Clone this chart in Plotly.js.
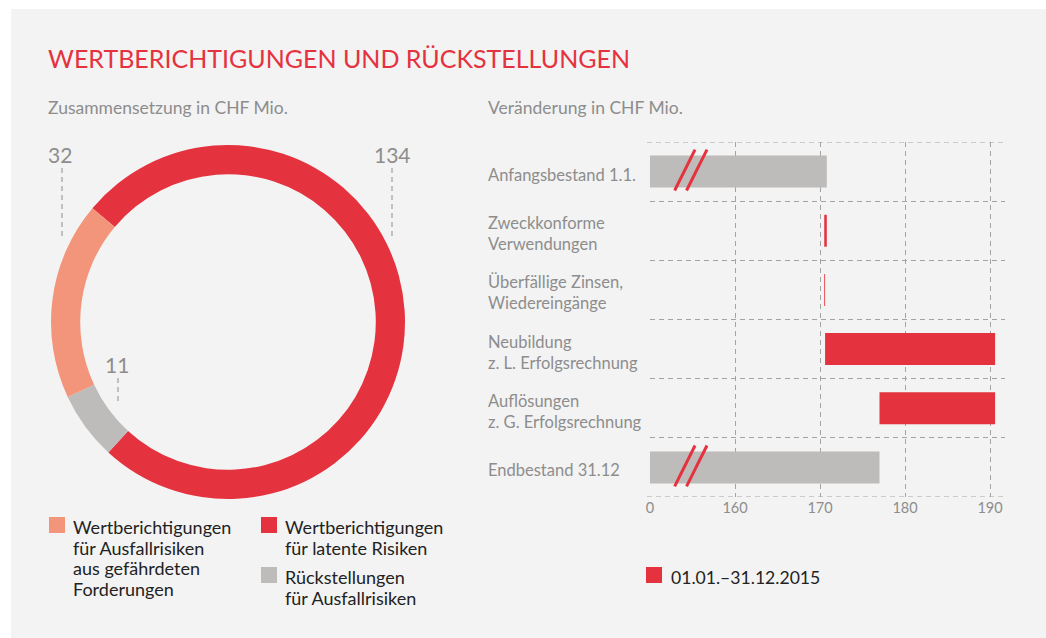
<!DOCTYPE html>
<html>
<head>
<meta charset="utf-8">
<script src="https://cdn.plot.ly/plotly-3.0.1.min.js"></script>
<style>
  html, body { margin: 0; padding: 0; background: #ffffff; }
  #chart { width: 1046px; height: 638px; }
</style>
</head>
<body>
<div id="chart"></div>
<script>
// ---------- DATA ----------
const pieLabels = [
  "Wertberichtigungen für latente Risiken",
  "Rückstellungen für Ausfallrisiken",
  "Wertberichtigungen für Ausfallrisiken aus gefährdeten Forderungen"
];
const pieValues = [134, 11, 32];
const pieColors = ["#e5323f", "#bebcba", "#f3957a"];

const legendLinesSalmon = ["Wertberichtigungen", "für Ausfallrisiken", "aus gefährdeten", "Forderungen"];
const legendLinesRed = ["Wertberichtigungen", "für latente Risiken"];
const legendLinesGrey = ["Rückstellungen", "für Ausfallrisiken"];

const categories = [
  "Anfangsbestand 1.1.",
  "Zweckkonforme<br>Verwendungen",
  "Überfällige Zinsen,<br>Wiedereingänge",
  "Neubildung<br>z. L. Erfolgsrechnung",
  "Auflösungen<br>z. G. Erfolgsrechnung",
  "Endbestand 31.12"
];
const changeValues = [170.8, -0.3, 0.1, 20.0, -13.6, 0];
const changeMeasures = ["absolute", "relative", "relative", "relative", "relative", "total"];
const periodLabel = "01.01.–31.12.2015";

const tickValues = [150, 160, 170, 180, 190];
const tickLabels = ["0", "160", "170", "180", "190"];

// ---------- LAYOUT HELPERS ----------
const W = 1046, H = 638;
const px = x => x / W;
const py = y => 1 - y / H;

const RED = "#e5323f", GREY_TXT = "#8d8d8d", GRID = "#a3a3a3", FONT = "Lato, 'Open Sans', sans-serif";

const pieTrace = {
  type: "pie",
  labels: pieLabels,
  values: pieValues,
  marker: { colors: pieColors, line: { width: 0 } },
  hole: 0.835,
  sort: false,
  direction: "clockwise",
  rotation: -50,
  textinfo: "none",
  hoverinfo: "label+value",
  showlegend: false,
  domain: { x: [px(51), px(405)], y: [py(499), py(145)] }
};

const wfTrace = {
  type: "waterfall",
  orientation: "h",
  y: categories,
  x: changeValues,
  measure: changeMeasures,
  width: 0.54,
  increasing: { marker: { color: RED } },
  decreasing: { marker: { color: RED } },
  totals: { marker: { color: "#bebcba" } },
  connector: { visible: false },
  textinfo: "none",
  showlegend: false,
  xaxis: "x", yaxis: "y"
};

const annotations = [
  { text: "WERTBERICHTIGUNGEN UND RÜCKSTELLUNGEN", x: px(46), y: py(58), xanchor: "left", yanchor: "middle",
    font: { family: FONT, size: 25, color: RED } },
  { text: "Zusammensetzung in CHF Mio.", x: px(46), y: py(107), xanchor: "left", yanchor: "middle",
    font: { family: FONT, size: 17.5, color: GREY_TXT } },
  { text: "Veränderung in CHF Mio.", x: px(486), y: py(107), xanchor: "left", yanchor: "middle",
    font: { family: FONT, size: 17.5, color: GREY_TXT } },
  { text: String(pieValues[2]), x: px(60), y: py(154), xanchor: "center", yanchor: "middle",
    font: { family: FONT, size: 21, color: GREY_TXT } },
  { text: String(pieValues[0]), x: px(392), y: py(154), xanchor: "center", yanchor: "middle",
    font: { family: FONT, size: 21, color: GREY_TXT } },
  { text: String(pieValues[1]), x: px(117), y: py(364), xanchor: "center", yanchor: "middle",
    font: { family: FONT, size: 21, color: GREY_TXT } },
  { text: periodLabel, x: px(669), y: py(577), xanchor: "left", yanchor: "middle", align: "left",
    font: { family: FONT, size: 17.6, color: "#222" } }
];
const legendBlock = (lines, x, yFirst) => lines.forEach((t, i) => annotations.push({
  text: t, x: px(x), y: py(yFirst + i * 20.7), xanchor: "left", yanchor: "middle", align: "left",
  font: { family: FONT, size: 18, color: "#222" } }));
legendBlock(legendLinesSalmon, 71, 527);
legendBlock(legendLinesRed, 283, 527);
legendBlock(legendLinesGrey, 283, 577);

categories.forEach(c => {
  annotations.push({ text: c, xref: "paper", yref: "y", x: px(486), y: c, xanchor: "left", yanchor: "middle",
    align: "left", yshift: -3, showarrow: false, font: { family: FONT, size: 16.5, color: GREY_TXT } });
});
annotations.forEach(a => { a.showarrow = false; if (!a.xref) a.xref = "paper"; if (!a.yref) a.yref = "paper"; });

const sq = (x, y, color) => ({ type: "rect", xref: "paper", yref: "paper", x0: px(x), x1: px(x + 16), y0: py(y + 16), y1: py(y),
  fillcolor: color, line: { width: 0 } });
const lead = (x, y0, y1) => ({ type: "line", xref: "paper", yref: "paper", x0: px(x), x1: px(x), y0: py(y0), y1: py(y1),
  line: { color: "#8d8d8d", width: 1, dash: "5px,4px" } });
const brk = (cat, xa, xb) => ({ type: "line", xref: "x", yref: "y", x0: xa, x1: xb, y0: categories.indexOf(cat) + 0.32, y1: categories.indexOf(cat) - 0.37,
  line: { color: RED, width: 3 } });
const edge = yv => ({ type: "line", xref: "paper", yref: "y", x0: px(647), x1: px(1005), y0: yv, y1: yv,
  line: { color: GRID, width: 1, dash: "5px,4px" }, layer: "below" });

const shapes = [
  { type: "rect", xref: "paper", yref: "paper", x0: px(11), x1: 1, y0: 0, y1: py(9), fillcolor: "#f3f3f3", line: { width: 0 }, layer: "below" },
  edge(-0.5), edge(categories.length - 0.5),
  lead(62, 168, 238), lead(392, 168, 238), lead(118, 378, 405),
  sq(49, 517, pieColors[2]), sq(261, 517, pieColors[0]), sq(261, 567, pieColors[1]), sq(646, 567, RED),
  brk(categories[0], 152.9, 155.3), brk(categories[0], 154.3, 156.7),
  brk(categories[5], 152.9, 155.3), brk(categories[5], 154.3, 156.7)
];

const layout = {
  width: W, height: H,
  margin: { l: 0, r: 0, t: 0, b: 0 },
  paper_bgcolor: "#ffffff",
  plot_bgcolor: "rgba(0,0,0,0)",
  showlegend: false,
  font: { family: FONT, color: GREY_TXT },
  xaxis: {
    domain: [px(650), px(1005)],
    range: [150, 150 + 355 / 8.5],
    tickvals: tickValues, ticktext: tickLabels,
    showgrid: true, gridcolor: GRID, griddash: "5px,4px", gridwidth: 1,
    zeroline: false, showline: false, ticks: "",
    tickfont: { family: FONT, size: 14.5, color: GREY_TXT },
    anchor: "y", fixedrange: true
  },
  yaxis: {
    domain: [py(497), py(142)],
    type: "category",
    categoryorder: "array", categoryarray: categories,
    autorange: false, range: [5.5, -0.5],
    tickson: "boundaries",
    showgrid: true, gridcolor: GRID, griddash: "5px,4px", gridwidth: 1,
    showticklabels: false, ticks: "", zeroline: false, showline: false,
    anchor: "x", fixedrange: true
  },
  annotations: annotations,
  shapes: shapes
};

Plotly.newPlot("chart", [pieTrace, wfTrace], layout, { displayModeBar: false, staticPlot: true });
</script>
</body>
</html>
